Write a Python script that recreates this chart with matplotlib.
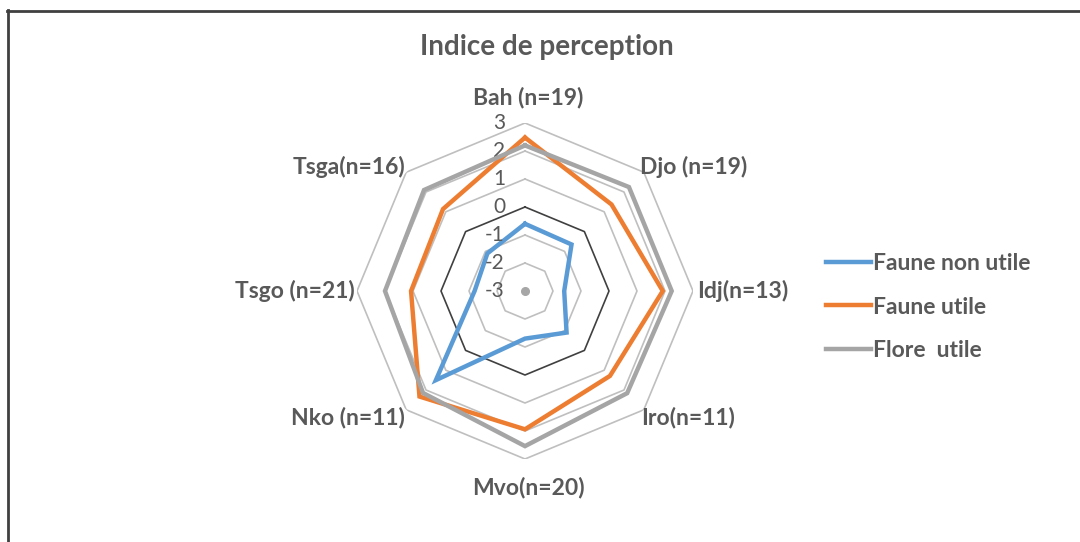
import numpy as np
import matplotlib
matplotlib.use("Agg")
import matplotlib.pyplot as plt
from matplotlib.lines import Line2D
from matplotlib.transforms import ScaledTranslation

# ─── données ───────────────────────────────────
sites = ["Bah (n=19)", "Djo (n=19)", "Idj(n=13)", "Iro(n=11)",
         "Mvo(n=20)", "Nko (n=11)", "Tsgo (n=21)", "Tsga(n=16)"]
faune_non_utile = [-0.6, -0.65, -1.6, -0.9, -1.3, 1.5, -1.2, -1.1]
faune_utile     = [2.48, 1.37, 1.92, 1.29, 1.94, 2.33, 1.07, 1.14]
flore_utile     = [2.2, 2.25, 2.24, 2.16, 2.54, 2.15, 2.0, 2.1]
levels = [-2, -1, 0, 1, 2, 3]
tick_labels = ["3", "2", "1", "0", "-1", "-2", "-3"]
tick_values = [3, 2, 1, 0, -1, -2, -3]

series = [("Faune non utile", faune_non_utile, "#5B9BD5"),
          ("Faune utile", faune_utile, "#ED7D31"),
          ("Flore  utile", flore_utile, "#A5A5A5")]

plt.rcParams['font.family'] = ['Lato', 'DejaVu Sans']
TXT = "#595959"

W, H = 1080, 542
fig = plt.figure(figsize=(W / 100, H / 100), dpi=100)

cx, cy, R = 525, 291, 168
ax = fig.add_axes([(cx - R) / W, (H - cy - R) / H, 2 * R / W, 2 * R / H],
                  projection='polar')
ax.set_theta_offset(np.pi / 2)
ax.set_theta_direction(-1)
ax.set_ylim(-3, 3)
ax.grid(False)
ax.spines['polar'].set_visible(False)
ax.set_xticks([])
ax.set_yticks([])
ax.patch.set_alpha(0)

n = len(sites)
theta = np.linspace(0, 2 * np.pi, n, endpoint=False)
tclosed = np.append(theta, theta[0])

# grille octogonale
for lv in levels:
    col = "#404040" if lv == 0 else "#BFBFBF"
    ax.plot(tclosed, [lv] * (n + 1), color=col, lw=1.2, zorder=1)
ax.plot([0], [-3], 'o', color="#A6A6A6", ms=5.5, zorder=1)

# séries
for i, (name, vals, col) in enumerate(series):
    ax.plot(tclosed, vals + [vals[0]], color=col, lw=3.2, label=name,
            solid_joinstyle='miter', zorder=3 + i)

# étiquettes de l'axe radial
off = ScaledTranslation(-20 / 100, 0, fig.dpi_scale_trans)
for tv, tl in zip(tick_values, tick_labels):
    ax.text(0, tv, tl, transform=ax.transData + off, ha='right', va='center',
            fontsize=15, color=TXT)

# étiquettes des catégories
pos = [(528, 97, 'center'), (640, 167, 'left'), (697, 291, 'left'),
       (641, 417, 'left'), (528, 487, 'center'), (405, 417, 'right'),
       (355, 291, 'right'), (405, 167, 'right')]
for lab, (x, y, ha) in zip(sites, pos):
    fig.text(x / W, 1 - y / H, lab, ha=ha, va='center', fontsize=16.5,
             fontweight='bold', color=TXT)

fig.text(547 / W, 1 - 47 / H, "Indice de perception", ha='center', va='center',
         fontsize=20, fontweight='bold', color=TXT)

fig.legend(loc='center left', bbox_to_anchor=(826 / W, 1 - 307 / H),
           frameon=False, handlelength=1.95, handletextpad=0.1,
           labelspacing=1.0, borderpad=0, borderaxespad=0,
           prop={'weight': 'bold', 'size': 16.5})
for t in fig.legends[0].get_texts():
    t.set_color(TXT)

# cadre
fig.add_artist(Line2D([7.5 / W, 7.5 / W], [0, 1 - 10 / H], color="#404040",
                      lw=2, transform=fig.transFigure))
fig.add_artist(Line2D([7 / W, 1], [1 - 10.5 / H, 1 - 10.5 / H], color="#404040",
                      lw=2, transform=fig.transFigure))

fig.savefig("out.png", dpi=100, facecolor='white')
